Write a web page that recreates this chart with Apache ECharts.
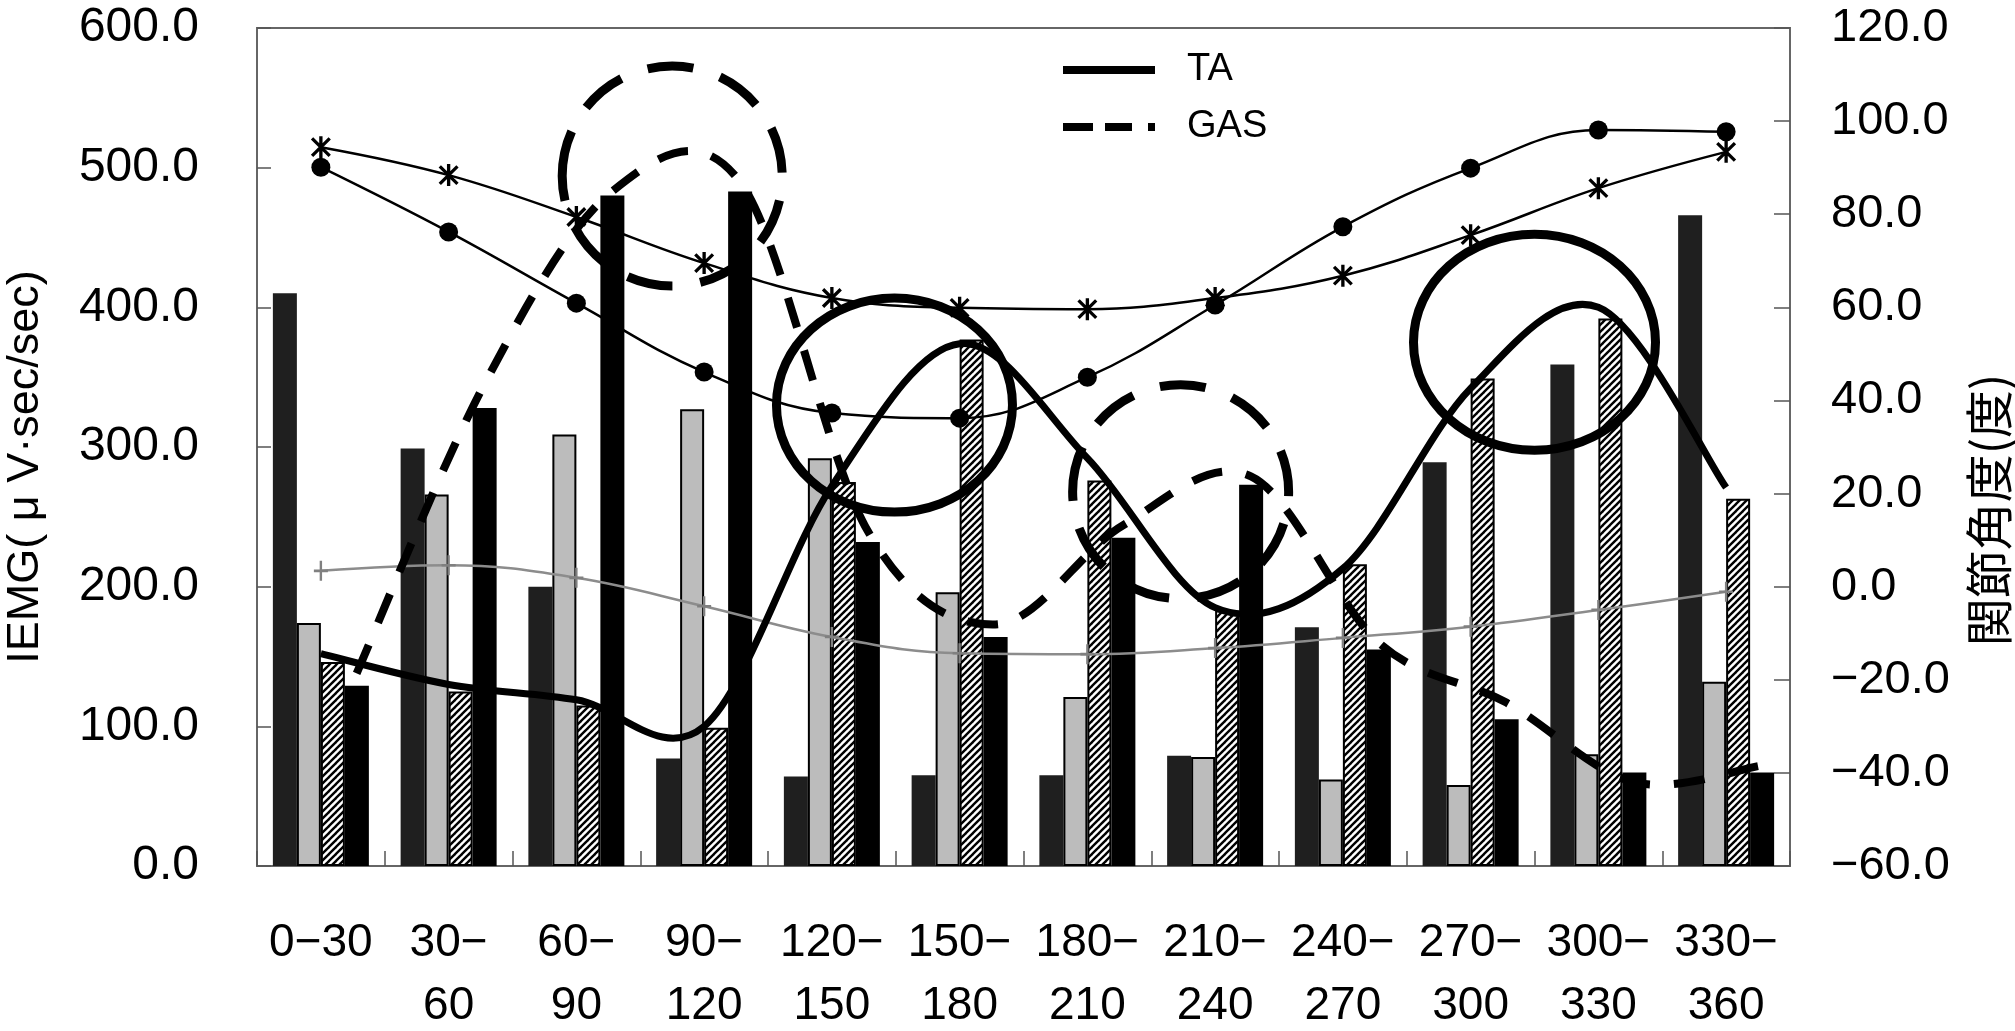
<!DOCTYPE html>
<html lang="ja">
<head>
<meta charset="UTF-8">
<title>IEMG と関節角度</title>
<script src="https://cdn.jsdelivr.net/npm/echarts@6/dist/echarts.min.js"></script>
<style>
    html, body { margin: 0; padding: 0; background: #fff; }
    #main { width: 2015px; height: 1031px; }
</style>
</head>
<body>
<div id="main"></div>
<script>
    // 区間（度）
    var categories = ['0−30', '30−\n60', '60−\n90', '90−\n120', '120−\n150', '150−\n180',
        '180−\n210', '210−\n240', '240−\n270', '270−\n300', '300−\n330', '330−\n360'];

    // IEMG の棒（左軸）
    var barDark   = [410, 299, 200, 77, 64, 65, 65, 79, 171, 289, 359, 466];
    var barGray   = [174, 266, 309, 327, 292, 196, 121, 78, 62, 58, 80, 132];
    var barHatch  = [146, 125, 115, 99, 275, 377, 276, 183, 216, 349, 392, 263];
    var barBlack  = [129, 328, 480, 483, 232, 164, 235, 273, 155, 105, 67, 67];

    // TA / GAS 曲線（左軸）
    var taPos   = [0, 1, 2, 3, 4, 5, 6, 7, 8, 9, 10, 11];
    var taLine  = [152, 130, 119, 100, 272, 374, 292, 185, 213, 342, 400, 271];
    var gasPos  = [0.28, 1.28, 2.28, 3.28, 4.28, 5.28, 6.28, 7.28, 8.28, 9.28, 10.28, 11.28];
    var gasLine = [138, 345, 483, 490, 240, 173, 244, 279, 160, 117, 60, 72];

    // 関節角度（右軸）
    var angleCircle = [90.1, 76.2, 60.9, 46.1, 37.3, 36.2, 45.0, 60.5, 77.3, 89.9, 98.1, 97.7];
    var angleStar   = [94.4, 88.4, 79.4, 69.5, 62.0, 59.9, 59.6, 62.0, 66.8, 75.5, 85.6, 93.4];
    var anglePlus   = [3.4, 4.6, 1.9, -4.2, -10.8, -14.3, -14.5, -13.2, -11.0, -8.6, -5.0, -1.1];

    // 注釈の楕円（x: 区間位置, y: 左軸の値）
    var rings = [
        { x: 2.75, y: 494, rx: 110, ry: 110, dashed: true },
        { x: 4.49, y: 330, rx: 118, ry: 107, dashed: false },
        { x: 6.73, y: 268, rx: 108, ry: 107, dashed: true },
        { x: 9.50, y: 375, rx: 121, ry: 108, dashed: false }
    ];

    // 斜線パターン
    var hatch = document.createElement('canvas');
    hatch.width = 7;
    hatch.height = 7;
    var hc = hatch.getContext('2d');
    hc.fillStyle = '#fff';
    hc.fillRect(0, 0, 7, 7);
    hc.strokeStyle = '#000';
    hc.lineWidth = 2.4;
    for (var k = -1; k <= 1; k++) {
        hc.beginPath();
        hc.moveTo(k * 7 - 1, 8);
        hc.lineTo(k * 7 + 8, -1);
        hc.stroke();
    }

    var starPath = 'path://M-1.5,-10L1.5,-10L1.5,10L-1.5,10Z' +
        'M-9,-6.9L-6.9,-9L9,6.9L6.9,9Z' +
        'M6.9,-9L9,-6.9L-6.9,9L-9,6.9Z';
    var plusPath = 'path://M-1.2,-9L1.2,-9L1.2,9L-1.2,9Z M-7,-1.2L7,-1.2L7,1.2L-7,1.2Z';

    function fmt(v) {
        return v.toFixed(1).replace('-', '−');
    }

    function pairs(xs, ys) {
        var out = [];
        for (var i = 0; i < ys.length; i++) {
            out.push([xs[i], ys[i]]);
        }
        return out;
    }

    // Excel 風のなめらかな線（点を通る 3 次ベジェ）
    function curvePath(api, n, t) {
        var pts = [];
        for (var i = 0; i < n; i++) {
            pts.push(api.coord([api.value(0, i), api.value(1, i)]));
        }
        var d = 'M' + pts[0][0] + ',' + pts[0][1];
        for (var j = 0; j < n - 1; j++) {
            var p0 = pts[Math.max(j - 1, 0)];
            var p1 = pts[j];
            var p2 = pts[j + 1];
            var p3 = pts[Math.min(j + 2, n - 1)];
            d += 'C' + (p1[0] + (p2[0] - p0[0]) * t) + ',' + (p1[1] + (p2[1] - p0[1]) * t) +
                ',' + (p2[0] - (p3[0] - p1[0]) * t) + ',' + (p2[1] - (p3[1] - p1[1]) * t) +
                ',' + p2[0] + ',' + p2[1];
        }
        return d;
    }

    function curveSeries(name, data, width, dash) {
        return {
            name: name,
            type: 'custom',
            xAxisIndex: 1,
            yAxisIndex: 0,
            silent: true,
            data: data,
            itemStyle: { color: '#000' },
            z: 5,
            renderItem: function (params, api) {
                if (params.dataIndex !== 0) {
                    return null;
                }
                return {
                    type: 'path',
                    shape: { pathData: curvePath(api, data.length, 1 / 6) },
                    style: { fill: null, stroke: '#000', lineWidth: width, lineDash: dash, lineJoin: 'round' }
                };
            }
        };
    }

    var myChart = echarts.init(document.getElementById('main'));

    var axisGray = { color: '#666', width: 2 };
    var tickGray = { color: '#555', width: 1.5 };

    var option = {
        animation: false,
        backgroundColor: '#fff',
        textStyle: { fontFamily: 'Liberation Sans', color: '#000' },
        grid: {
            left: 257, right: 225, top: 28, bottom: 165,
            show: true, borderColor: '#666', borderWidth: 2,
            outerBoundsMode: 'none'
        },
        legend: {
            orient: 'vertical',
            left: 1063,
            top: 48,
            padding: 0,
            itemWidth: 92,
            itemHeight: 8,
            itemGap: 13,
            selectedMode: false,
            data: [
                { name: 'TA', icon: 'path://M0,0L92,0L92,8L0,8Z' },
                { name: 'GAS', icon: 'path://M0,0L30,0L30,8L0,8Z M42,0L69,0L69,8L42,8Z M85,0L92,0L92,8L85,8Z' }
            ],
            textStyle: { fontSize: 38, lineHeight: 44, color: '#000', padding: [0, 0, 0, 27] }
        },
        xAxis: [
            {
                type: 'category',
                data: categories,
                axisLine: { show: true, onZero: false, lineStyle: axisGray },
                axisTick: { show: true, inside: true, length: 15, lineStyle: tickGray },
                axisLabel: { interval: 0, margin: 46, fontSize: 46, lineHeight: 63, color: '#000' },
                splitLine: { show: false }
            },
            {
                type: 'value',
                min: -0.5,
                max: 11.5,
                show: false,
                axisLine: { onZero: false }
            }
        ],
        yAxis: [
            {
                type: 'value',
                min: 0, max: 600, interval: 100,
                name: 'IEMG( μ V·sec/sec)',
                nameLocation: 'middle',
                nameGap: 206,
                nameTextStyle: {
                    fontSize: 45, lineHeight: 50, color: '#000',
                    fontFamily: 'Liberation Sans', padding: [0, 40, 0, 0]
                },
                axisLine: { show: true, onZero: false, lineStyle: axisGray },
                axisTick: { show: true, inside: true, length: 14, lineStyle: tickGray },
                axisLabel: { margin: 58, fontSize: 48, color: '#000', formatter: fmt },
                splitLine: { show: false }
            },
            {
                type: 'value',
                position: 'right',
                min: -60, max: 120, interval: 20,
                name: '関節角度(度)',
                nameLocation: 'middle',
                nameGap: 154,
                nameTextStyle: {
                    fontSize: 48, lineHeight: 56, color: '#000',
                    fontFamily: 'Noto Sans CJK JP', padding: [0, 126, 0, 0]
                },
                axisLine: { show: true, onZero: false, lineStyle: axisGray },
                axisTick: { show: true, inside: true, length: 16, lineStyle: tickGray },
                axisLabel: { margin: 41, fontSize: 47, color: '#000', formatter: fmt },
                splitLine: { show: false }
            }
        ],
        series: [
            { name: 'dark', type: 'bar', data: barDark, barWidth: 24, barGap: '0%', silent: true,
              itemStyle: { color: '#1f1f1f' } },
            { name: 'gray', type: 'bar', data: barGray, barWidth: 24, barGap: '0%', silent: true,
              itemStyle: { color: '#bcbcbc', borderColor: '#000', borderWidth: 2 } },
            { name: 'hatch', type: 'bar', data: barHatch, barWidth: 24, barGap: '0%', silent: true,
              itemStyle: { color: { image: hatch, repeat: 'repeat' }, borderColor: '#000', borderWidth: 2 } },
            { name: 'black', type: 'bar', data: barBlack, barWidth: 24, barGap: '0%', silent: true,
              itemStyle: { color: '#000' } },

            { name: 'plus', type: 'line', yAxisIndex: 1, data: anglePlus, smooth: 0.4, silent: true,
              symbol: plusPath, symbolSize: [14, 20],
              itemStyle: { color: '#808080' }, lineStyle: { color: '#8c8c8c', width: 2.5 } },
            { name: 'circle', type: 'line', yAxisIndex: 1, data: angleCircle, smooth: 0.4, silent: true,
              symbol: 'circle', symbolSize: 19,
              itemStyle: { color: '#000' }, lineStyle: { color: '#000', width: 2.5 } },
            { name: 'star', type: 'line', yAxisIndex: 1, data: angleStar, smooth: 0.4, silent: true,
              symbol: starPath, symbolSize: [20, 22],
              itemStyle: { color: '#000' }, lineStyle: { color: '#000', width: 2.5 } },

            curveSeries('TA', pairs(taPos, taLine), 7, null),
            curveSeries('GAS', pairs(gasPos, gasLine), 8, [31, 24])
        ]
    };

    myChart.setOption(option);

    // 注釈の楕円を軸の座標から配置
    var ringEls = [];
    for (var r = 0; r < rings.length; r++) {
        var c = myChart.convertToPixel({ xAxisIndex: 1, yAxisIndex: 0 }, [rings[r].x, rings[r].y]);
        ringEls.push({
            type: 'ellipse',
            silent: true,
            z: 100,
            shape: { cx: c[0], cy: c[1], rx: rings[r].rx, ry: rings[r].ry },
            style: { fill: null, stroke: '#000', lineWidth: 9, lineDash: rings[r].dashed ? [46, 28] : null }
        });
    }
    myChart.setOption({ graphic: ringEls });
</script>
</body>
</html>
